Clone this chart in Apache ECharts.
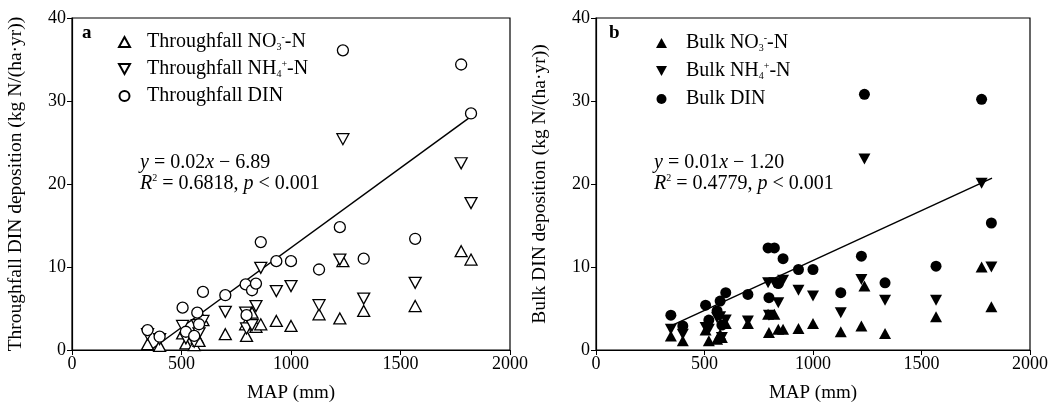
<!DOCTYPE html>
<html>
<head>
<meta charset="utf-8">
<script src="https://cdn.jsdelivr.net/npm/echarts@6/dist/echarts.min.js"></script>
<style>
  html, body { margin: 0; padding: 0; background: #fff; }
  #chart { width: 1063px; height: 409px; }
</style>
</head>
<body>
<div id="chart"></div>
<script>
// site MAP (mm), shared by both panels
var mapMM = [345, 400, 505, 520, 558, 572, 580, 598, 700, 793, 797, 822, 840, 862, 933, 1000, 1128, 1223, 1237, 1332, 1567, 1777, 1822];

// panel a: throughfall
var tfNO3 = [0.7, 0.5, 2.0, 0.8, 0.6, 1.5, 1.1, 3.6, 1.9, 3.1, 1.7, 4.5, 2.8, 3.1, 3.5, 2.9, 4.3, 3.8, 10.7, 4.7, 5.3, 11.9, 10.9];
var tfNH4 = [1.9, 1.3, 2.9, 1.4, 1.0, 3.0, 2.0, 3.5, 4.6, 4.5, 2.6, 3.0, 5.3, 9.9, 7.1, 7.7, 5.4, 10.9, 25.4, 6.2, 8.1, 22.5, 17.7];
var tfDIN = [2.4, 1.6, 5.1, 2.2, 1.7, 4.5, 3.1, 7.0, 6.6, 7.9, 4.2, 7.2, 8.0, 13.0, 10.7, 10.7, 9.7, 14.8, 36.1, 11.0, 13.4, 34.4, 28.5];

// panel b: bulk
var bkNO3 = [1.7, 1.1, 2.4, 1.1, 1.3, 1.9, 1.5, 3.2, 3.2, 4.3, 2.1, 4.3, 2.5, 2.5, 2.6, 3.2, 2.2, 2.9, 7.7, 2.0, 4.0, 10.0, 5.2];
var bkNH4 = [2.5, 1.9, 2.7, 2.5, 3.9, 4.0, 1.5, 3.6, 3.5, 8.1, 4.2, 8.1, 5.7, 8.4, 7.2, 6.5, 4.5, 8.5, 23.0, 6.0, 6.0, 20.1, 10.0];
var bkDIN = [4.2, 2.9, 5.4, 3.6, 4.7, 5.9, 3.0, 6.9, 6.7, 12.3, 6.3, 12.3, 8.0, 11.0, 9.7, 9.7, 6.9, 11.3, 30.8, 8.1, 10.1, 30.2, 15.3];

// fitted line end points as drawn
var fitA = [[359, 0], [1815, 28.0]];
var fitB = [[345, 2.9], [1825, 20.7]];

var xTicks = [0, 500, 1000, 1500, 2000];
var yTicks = [0, 10, 20, 30, 40];

function pairs(ys) {
    return mapMM.map(function (x, i) { return [x, ys[i]]; });
}

var FONT = 'Liberation Serif';
var UP = 'path://M5,0L10,9L0,9Z';
var DOWN = 'path://M0,0L10,0L5,9Z';

var richLbl = {
    n: { fontFamily: FONT, fontSize: 20, color: '#000' },
    sub: { fontFamily: FONT, fontSize: 10, color: '#000', verticalAlign: 'bottom', padding: [9, 0, 0, 0] },
    sup: { fontFamily: FONT, fontSize: 10, color: '#000', verticalAlign: 'top', padding: [0, 0, 9, 0] }
};

var names = {
    'Throughfall NO3': '{n|Throughfall NO}{sub|3}{sup|-}{n|-N}',
    'Throughfall NH4': '{n|Throughfall NH}{sub|4}{sup|+}{n|-N}',
    'Throughfall DIN': '{n|Throughfall DIN}',
    'Bulk NO3': '{n|Bulk NO}{sub|3}{sup|-}{n|-N}',
    'Bulk NH4': '{n|Bulk NH}{sub|4}{sup|+}{n|-N}',
    'Bulk DIN': '{n|Bulk DIN}'
};

function xAxis(idx) {
    return {
        gridIndex: idx, type: 'value', min: 0, max: 2000, interval: 500,
        name: 'MAP (mm)', nameLocation: 'middle', nameGap: 34,
        nameTextStyle: { fontFamily: FONT, fontSize: 19, color: '#000' },
        axisLine: { show: true, lineStyle: { color: '#000', width: 1.2 } },
        axisTick: { show: true, inside: false, length: 5, lineStyle: { color: '#000' } },
        axisLabel: { fontFamily: FONT, fontSize: 18, color: '#000', margin: 5, formatter: function (v) { return String(v); } },
        splitLine: { show: false }
    };
}
function yAxis(idx, name) {
    return {
        gridIndex: idx, type: 'value', min: 0, max: 40, interval: 10,
        name: name, nameLocation: 'middle', nameGap: 46,
        nameTextStyle: { fontFamily: FONT, fontSize: 19.5, color: '#000' },
        axisLine: { show: true, lineStyle: { color: '#000', width: 1.2 } },
        axisTick: { show: true, inside: false, length: 5, lineStyle: { color: '#000' } },
        axisLabel: { fontFamily: FONT, fontSize: 18, color: '#000', margin: 6 },
        splitLine: { show: false }
    };
}

function scat(name, idx, ys, symbol, filled) {
    return {
        name: name, type: 'scatter', xAxisIndex: idx, yAxisIndex: idx,
        symbol: symbol, symbolSize: symbol === 'circle' ? 11 : [12, 11],
        itemStyle: { color: filled ? '#000' : '#fff', borderColor: '#000', borderWidth: filled ? 0 : 1.3, opacity: 1 },
        data: pairs(ys), z: 3
    };
}

var eqRich = {
    i: { fontFamily: FONT, fontSize: 20, fontStyle: 'italic' },
    s: { fontFamily: FONT, fontSize: 10, verticalAlign: 'top', padding: [0, 0, 9, 0] }
};

var myChart = echarts.init(document.getElementById('chart'));
var option = {
    backgroundColor: '#fff',
    animation: false,
    grid: [
        { left: 72, top: 18, width: 438, height: 332, show: true, borderColor: '#000', borderWidth: 1.2 },
        { left: 596, top: 18, width: 434, height: 332, show: true, borderColor: '#000', borderWidth: 1.2 }
    ],
    xAxis: [xAxis(0), xAxis(1)],
    yAxis: [yAxis(0, 'Throughfall DIN deposition (kg N/(ha·yr))'), yAxis(1, 'Bulk DIN deposition (kg N/(ha·yr))')],
    legend: [
        {
            data: [{ name: 'Throughfall NO3', icon: UP }, { name: 'Throughfall NH4', icon: DOWN }, { name: 'Throughfall DIN', icon: 'circle' }],
            orient: 'vertical', left: 113, top: 27, itemWidth: 11, itemHeight: 10, itemGap: 7,
            formatter: function (n) { return names[n]; },
            textStyle: { rich: richLbl, padding: [0, 0, 0, 12] }
        },
        {
            data: [{ name: 'Bulk NO3', icon: UP }, { name: 'Bulk NH4', icon: DOWN }, { name: 'Bulk DIN', icon: 'circle' }],
            orient: 'vertical', left: 651, top: 28, itemWidth: 11, itemHeight: 10, itemGap: 8,
            formatter: function (n) { return names[n]; },
            textStyle: { rich: richLbl, padding: [0, 0, 0, 14] }
        }
    ],
    graphic: [
        { type: 'text', left: 82, top: 24, style: { text: 'a', fontFamily: FONT, fontSize: 19, fontWeight: 'bold', fill: '#000' } },
        { type: 'text', left: 609, top: 24, style: { text: 'b', fontFamily: FONT, fontSize: 19, fontWeight: 'bold', fill: '#000' } },
        { type: 'text', left: 140, top: 152, style: { text: '{i|y} = 0.02{i|x} − 6.89\n{i|R}{s|2} = 0.6818, {i|p} < 0.001', fontFamily: FONT, fontSize: 20, fill: '#000', lineHeight: 21, rich: eqRich } },
        { type: 'text', left: 654, top: 152, style: { text: '{i|y} = 0.01{i|x} − 1.20\n{i|R}{s|2} = 0.4779, {i|p} < 0.001', fontFamily: FONT, fontSize: 20, fill: '#000', lineHeight: 21, rich: eqRich } }
    ],
    series: [
        scat('Throughfall NO3', 0, tfNO3, UP, false),
        scat('Throughfall NH4', 0, tfNH4, DOWN, false),
        scat('Throughfall DIN', 0, tfDIN, 'circle', false),
        { type: 'line', xAxisIndex: 0, yAxisIndex: 0, data: fitA, symbol: 'none', lineStyle: { color: '#000', width: 1.5 }, z: 2 },
        scat('Bulk NO3', 1, bkNO3, UP, true),
        scat('Bulk NH4', 1, bkNH4, DOWN, true),
        scat('Bulk DIN', 1, bkDIN, 'circle', true),
        { type: 'line', xAxisIndex: 1, yAxisIndex: 1, data: fitB, symbol: 'none', lineStyle: { color: '#000', width: 1.5 }, z: 2 }
    ]
};
myChart.setOption(option);
window.addEventListener('resize', function () { myChart.resize(); });
</script>
</body>
</html>
